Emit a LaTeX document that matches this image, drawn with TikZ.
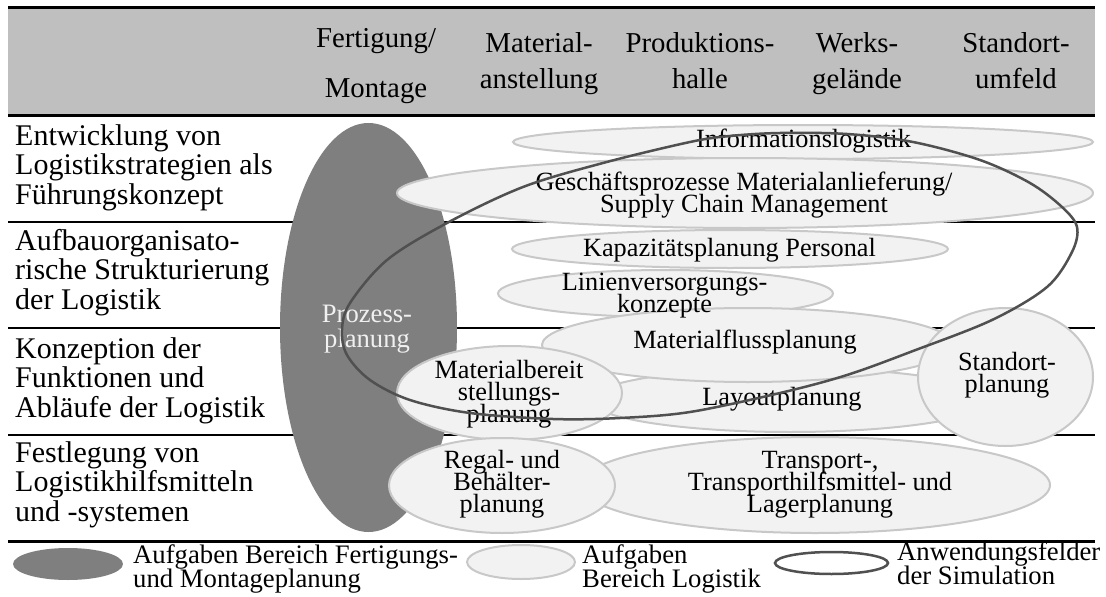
\documentclass[tikz,border=0pt]{standalone}
\usepackage{fontspec}
\setmainfont{Liberation Serif}
\usetikzlibrary{shapes.geometric}
\definecolor{hdrgray}{HTML}{BFBFBF}
\definecolor{darkel}{HTML}{7F7F7F}
\definecolor{lightfill}{HTML}{F2F2F2}
\definecolor{lightdraw}{HTML}{C8C8C8}
\definecolor{simcol}{HTML}{505050}
\definecolor{protext}{HTML}{F0F0F0}
\newcommand\ms{\vrule height 0.8em depth 0.25em width 0pt}
\newcommand\tightlines{\lineskiplimit=-100pt\lineskip=0pt}
\newcommand\hdrA{\fontsize{28.8}{50}\selectfont\tightlines}
\newcommand\hdrB{\fontsize{28.8}{36}\selectfont\tightlines}
\newcommand\rowf{\fontsize{30}{29.5}\selectfont\tightlines}
\newcommand\elf{\fontsize{26.3}{22}\selectfont\tightlines}
\newcommand\prof{\fontsize{26.6}{25}\selectfont\tightlines}
\newcommand\legf{\fontsize{26.7}{24}\selectfont\tightlines}
\begin{document}
\begin{tikzpicture}[x=1pt,y=-1pt,
  hdr/.style={inner sep=0pt, align=center, anchor=center},
  rowlab/.style={inner sep=0pt, align=left, anchor=north west, font=\rowf},
  darkell/.style={ellipse, inner sep=0pt, fill=darkel},
  lel/.style={ellipse, inner sep=0pt, fill=lightfill, draw=lightdraw, line width=2pt},
  eltext/.style={inner sep=0pt, align=center, font=\elf},
  rowrule/.style={line width=2.4pt},
  thickrule/.style={line width=3pt},
  sim/.style={draw=simcol, line width=2.5pt},
  legtext/.style={inner sep=0pt, align=left, anchor=north west, font=\legf}]

\useasboundingbox (0,0) rectangle (1106,597);
\fill[white] (0,0) rectangle (1106,597);

% header band and rules
\fill[hdrgray] (8,7) rectangle (1095,115);
\draw[thickrule] (8,7) -- (1095,7);
\draw[thickrule] (8,115) -- (1095,115);
\draw[rowrule] (8,222) -- (1095,222);
\draw[rowrule] (8,328) -- (1095,328);
\draw[rowrule] (8,435) -- (1095,435);
\draw[thickrule] (8,541) -- (1095,541);

% header texts
\node[hdr,font=\hdrA] (hFM) at (376,64.1) {\ms Fertigung/\\\ms Montage};
\node[hdr,font=\hdrB] (hMA) at (539,62.1) {\ms Material-\\\ms anstellung};
\node[hdr,font=\hdrB] (hPH) at (700,62.1) {\ms Produktions-\\\ms halle};
\node[hdr,font=\hdrB] (hWG) at (857,62.1) {\ms Werks-\\\ms gelände};
\node[hdr,font=\hdrB] (hSU) at (1016,62.1) {\ms Standort-\\\ms umfeld};

% row labels
\node[rowlab] (r1) at (15,121) {\ms Entwicklung von\\\ms Logistikstrategien als\\\ms Führungskonzept};
\node[rowlab] (r2) at (15,226) {\ms Aufbauorganisato-\\\ms rische Strukturierung\\\ms der Logistik};
\node[rowlab] (r3) at (15,334) {\ms Konzeption der\\\ms Funktionen und\\\ms Abläufe der Logistik};
\node[rowlab] (r4) at (15,438) {\ms Festlegung von\\\ms Logistikhilfsmitteln\\\ms und -systemen};

% production planning ellipse
\node[darkell, minimum width=177pt, minimum height=409pt] (proz) at (368.5,327.5) {};

% logistics ellipses
\node[lel, minimum width=580pt, minimum height=34pt] (info) at (803,142) {};
\node[lel, minimum width=696pt, minimum height=70pt] (gesch) at (745,193) {};
\node[lel, minimum width=436pt, minimum height=38pt] (kap) at (730,249) {};
\node[lel, minimum width=335pt, minimum height=47pt] (lin) at (665.5,293.5) {};
\node[lel, minimum width=400pt, minimum height=64pt] (lay) at (790,400) {};
\node[lel, minimum width=412pt, minimum height=74pt] (mfl) at (748,345) {};
\node[lel, minimum width=175pt, minimum height=138pt] (sto) at (1005.5,377) {};
\node[lel, minimum width=225pt, minimum height=94pt] (mbs) at (509.5,393) {};
\node[lel, minimum width=470pt, minimum height=96pt] (tra) at (815,485) {};
\node[lel, minimum width=226pt, minimum height=95pt] (reg) at (502,485.5) {};

% ellipse texts
\node[inner sep=0pt, align=center, font=\prof, text=protext] (tproz) at (367,327.2) {\ms Prozess-\\\ms planung};
\node[eltext] (tinfo) at (803.5,139.8) {\ms Informationslogistik};
\node[eltext] (tgesch) at (744,194.3) {\ms Geschäftsprozesse Materialanlieferung/\\\ms Supply Chain Management};
\node[eltext] (tkap) at (729.5,248.8) {\ms Kapazitätsplanung Personal};
\node[eltext] (tlin) at (664.5,293.8) {\ms Linienversorgungs-\\\ms konzepte};
\node[eltext] (tmfl) at (745,340.8) {\ms Materialflussplanung};
\node[eltext] (tlay) at (782,397.8) {\ms Layoutplanung};
\node[eltext] (tmbs) at (509,393.3) {\ms Materialbereit\\\ms stellungs-\\\ms planung};
\node[eltext] (tsto) at (1007,373.8) {\ms Standort-\\\ms planung};
\node[eltext] (treg) at (502,483.3) {\ms Regal- und\\\ms Behälter-\\\ms planung};
\node[eltext] (ttra) at (820,483.3) {\ms Transport-,\\\ms Transporthilfsmittel- und\\\ms Lagerplanung};

% simulation field
\draw[sim] plot[smooth cycle, tension=0.55] coordinates {
  (342,330) (347,355) (370,380) (410,400) (470,413) (553,419) (620,418)
  (690,412) (780,393) (847,375) (913,351) (992,320) (1047,287) (1072,252)
  (1077,227) (1062,207) (1030,183) (980,160) (913,142) (847,134) (780,133)
  (730,136) (690,142) (603,163) (523,187) (447,223) (387,260) (350,303)};

% legend
\node[darkell, minimum width=110pt, minimum height=32pt] (lgd) at (68,564) {};
\node[legtext] (lgdt) at (133,541.6) {\ms Aufgaben Bereich Fertigungs-\\\ms und Montageplanung};
\node[lel, minimum width=108pt, minimum height=34pt] (lgl) at (521,562) {};
\node[legtext] (lglt) at (582,541.6) {\ms Aufgaben\\\ms Bereich Logistik};
\node[ellipse, sim, inner sep=0pt, minimum width=113pt, minimum height=22pt] (lgs) at (831.5,563) {};
\node[legtext] (lgst) at (897,538.6) {\ms Anwendungsfelder\\\ms der Simulation};
\end{tikzpicture}
\end{document}
